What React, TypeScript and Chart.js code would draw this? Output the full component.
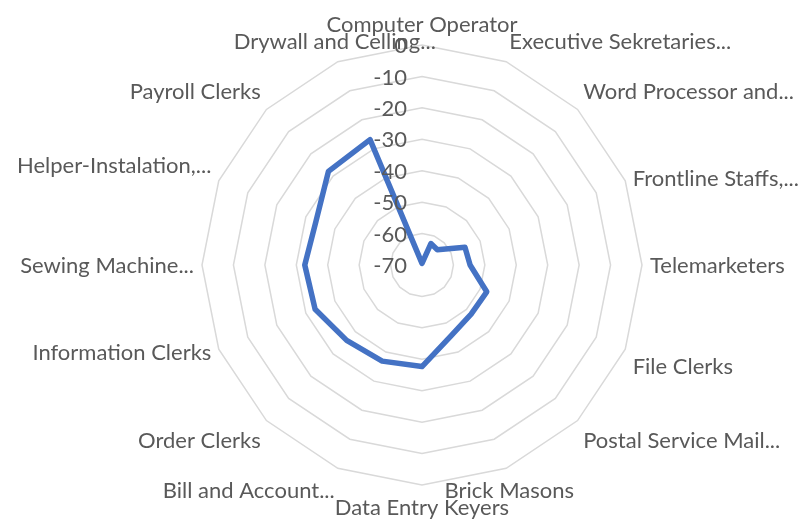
import React, { useEffect, useRef } from 'react';
import { Chart, registerables } from 'chart.js';

Chart.register(...registerables);

// ---- data ----
const categories = [
  'Computer Operator',
  'Executive Sekretaries...',
  'Word Processor and...',
  'Frontline Staffs,...',
  'Telemarketers',
  'File Clerks',
  'Postal Service Mail...',
  'Brick Masons',
  'Data Entry Keyers',
  'Bill and Account...',
  'Order Clerks',
  'Information Clerks',
  'Sewing Machine...',
  'Helper-Instalation,...',
  'Payroll Clerks',
  'Drywall and Celling...',
];
const seriesValues = [
  -69.5, -62.6, -63.1, -55.2, -54.7, -47.7, -47.9, -45.7,
  -37.7, -36.9, -36.1, -33.2, -32.7, -33.5, -27.9, -26.8,
];
const axisMin = -70;
const axisMax = 0;
const axisStep = 10;

// ---- styles ----
const FONT_FAMILY = 'Lato, "Open Sans", sans-serif';
const FONT_SIZE = 22;
const TEXT_COLOR = '#595959';
const LINE_COLOR = '#4472C4';
const GRID_COLOR = '#d9d9d9';
const LABEL_PAD = 8;
const labelHAlign: CanvasTextAlign[] = [
  'center', 'left', 'left', 'left', 'left', 'left', 'left', 'center',
  'center', 'right', 'right', 'right', 'right', 'right', 'right', 'center',
];
const labelVAlign = [
  'bottom', 'bottom', 'bottom', 'middle', 'middle', 'top', 'top', 'top',
  'top', 'top', 'top', 'middle', 'middle', 'bottom', 'bottom', 'bottom',
];

const excelLabels = {
  id: 'excelLabels',
  afterDraw(chart: any) {
    const scale = chart.scales.r;
    const ctx: CanvasRenderingContext2D = chart.ctx;
    ctx.save();
    ctx.font = `${FONT_SIZE}px ${FONT_FAMILY}`;
    ctx.fillStyle = TEXT_COLOR;
    ctx.textBaseline = 'middle';
    (chart.data.labels as string[]).forEach((lab, i) => {
      const p = scale.getPointPosition(i, scale.drawingArea + LABEL_PAD);
      const v = labelVAlign[i];
      const y = v === 'bottom' ? p.y - 12 : v === 'top' ? p.y + 15 : p.y + 1;
      ctx.textAlign = labelHAlign[i];
      ctx.fillText(lab, p.x, y);
    });
    ctx.textAlign = 'right';
    scale.ticks.forEach((t: any) => {
      const y = scale.yCenter - scale.getDistanceFromCenterForValue(t.value);
      ctx.fillText(String(t.label), scale.xCenter - 15, y + 1);
    });
    ctx.restore();
  },
};

export default function App() {
  const ref = useRef<HTMLCanvasElement | null>(null);
  useEffect(() => {
    if (!ref.current) return;
    const chart = new Chart(ref.current, {
      type: 'radar',
      data: {
        labels: categories,
        datasets: [
          {
            data: seriesValues,
            borderColor: LINE_COLOR,
            borderWidth: 5.5,
            fill: false,
            pointRadius: 0,
            pointHoverRadius: 0,
            borderJoinStyle: 'round',
            tension: 0,
          },
        ],
      },
      options: {
        animation: false,
        responsive: false,
        devicePixelRatio: 1,
        layout: { padding: { left: 202, right: 162, top: 45, bottom: 34 } },
        plugins: { legend: { display: false }, tooltip: { enabled: false } },
        scales: {
          r: {
            min: axisMin,
            max: axisMax,
            ticks: { stepSize: axisStep, display: false },
            grid: { color: GRID_COLOR, lineWidth: 1.5 },
            angleLines: { display: false },
            pointLabels: { display: false },
          },
        },
      } as any,
      plugins: [excelLabels],
    });
    return () => chart.destroy();
  }, []);
  return (
    <div style={{ position: 'fixed', left: 0, top: 0, width: 804, height: 519, background: '#ffffff' }}>
      <canvas ref={ref} width={804} height={519} style={{ display: 'block' }} />
    </div>
  );
}
